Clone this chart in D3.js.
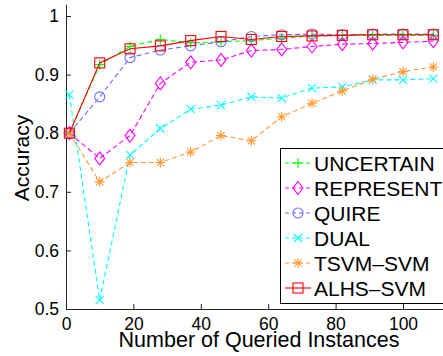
<!DOCTYPE html>
<html><head><meta charset="utf-8">
<script src="https://cdn.jsdelivr.net/npm/d3@7"></script>
<style>body{margin:0;background:#fff;overflow:hidden}svg{display:block}</style>
</head><body>
<script>
const xs = [1, 10, 19, 28, 37, 46, 55, 64, 73, 82, 91, 100, 109];
const seriesNames = ["UNCERTAIN", "REPRESENT", "QUIRE", "DUAL", "TSVM\u2013SVM", "ALHS\u2013SVM"];
const uncertain = [0.800, 0.917, 0.948, 0.960, 0.954, 0.956, 0.958, 0.962, 0.966, 0.967, 0.967, 0.967, 0.967];
const represent = [0.800, 0.757, 0.796, 0.885, 0.921, 0.925, 0.941, 0.943, 0.948, 0.952, 0.953, 0.955, 0.957];
const quire     = [0.800, 0.862, 0.929, 0.942, 0.949, 0.956, 0.965, 0.968, 0.969, 0.968, 0.969, 0.969, 0.969];
const dual      = [0.866, 0.515, 0.763, 0.808, 0.841, 0.848, 0.862, 0.860, 0.877, 0.879, 0.891, 0.891, 0.893];
const tsvm      = [0.800, 0.717, 0.750, 0.750, 0.768, 0.796, 0.787, 0.828, 0.851, 0.872, 0.892, 0.905, 0.913];
const alhs      = [0.800, 0.920, 0.944, 0.949, 0.958, 0.965, 0.960, 0.965, 0.966, 0.967, 0.968, 0.968, 0.968];
const xTicks = [0, 20, 40, 60, 80, 100];
const yTicks = [0.5, 0.6, 0.7, 0.8, 0.9, 1];
const xLabel = "Number of Queried Instances";
const yLabel = "Accuracy";

const colors = ["#00ff00", "#ff00ff", "#6f6fff", "#00ffff", "#ff9933", "#ff0000"];
const markers = ["plus", "diamond", "circle", "cross", "star", "square"];
const dashes = ["5,3", "5,3", "5,3", "5,3", "5,3", null];
const values = [uncertain, represent, quire, dual, tsvm, alhs];

const W = 443, H = 356;
const FONT = "'Liberation Sans', Arial, sans-serif";
const svg = d3.select("body").append("svg").attr("width", W).attr("height", H)
  .style("font-family", FONT);

const x = d3.scaleLinear().domain([0, 120]).range([66, 66 + 120 * 3.37]);
const y = d3.scaleLinear().domain([0.5, 1.02]).range([309, 309 - 0.52 * 586]);

// axes
const gx = svg.append("g").attr("transform", `translate(0,${y(0.5)})`)
  .call(d3.axisBottom(x).tickValues(xTicks).tickSizeInner(-5).tickSizeOuter(0).tickPadding(9).tickFormat(d3.format("d")));
const gy = svg.append("g").attr("transform", `translate(${x(0)},0)`)
  .call(d3.axisLeft(y).tickValues(yTicks).tickSizeInner(-5).tickSizeOuter(0).tickPadding(7).tickFormat(d => d === 1 ? "1" : d3.format(".1f")(d)));
[gx, gy].forEach(g => {
  g.select(".domain").attr("stroke", "#222").attr("stroke-width", 1);
  g.selectAll(".tick line").attr("stroke", "#222");
  g.selectAll(".tick text").attr("fill", "#000").style("font-size", "17.5px").style("font-family", FONT);
});
gx.selectAll(".tick text").attr("dy", "0.71em");

svg.append("text").attr("x", (118 + 400) / 2).attr("y", 347).attr("text-anchor", "middle")
  .style("font-size", "21.5px").text(xLabel);
svg.append("text").attr("transform", `translate(29,158) rotate(-90)`).attr("text-anchor", "middle")
  .style("font-size", "21px").text(yLabel);

function drawMarker(g, type, cx, cy, color) {
  const s = 5;
  if (type === "plus") {
    g.append("path").attr("d", `M${cx - s},${cy}H${cx + s}M${cx},${cy - s}V${cy + s}`).attr("stroke", color).attr("fill", "none");
  } else if (type === "cross") {
    const t = 4;
    g.append("path").attr("d", `M${cx - t},${cy - t}L${cx + t},${cy + t}M${cx - t},${cy + t}L${cx + t},${cy - t}`).attr("stroke", color).attr("fill", "none");
  } else if (type === "star") {
    const t = 3.6;
    g.append("path").attr("d", `M${cx - s},${cy}H${cx + s}M${cx},${cy - s}V${cy + s}M${cx - t},${cy - t}L${cx + t},${cy + t}M${cx - t},${cy + t}L${cx + t},${cy - t}`).attr("stroke", color).attr("fill", "none");
  } else if (type === "circle") {
    g.append("circle").attr("cx", cx).attr("cy", cy).attr("r", 5).attr("stroke", color).attr("fill", "none");
  } else if (type === "square") {
    g.append("rect").attr("x", cx - 5).attr("y", cy - 5).attr("width", 10).attr("height", 10).attr("stroke", color).attr("fill", "none");
  } else if (type === "diamond") {
    g.append("path").attr("d", `M${cx},${cy - 6.5}L${cx + 5},${cy}L${cx},${cy + 6.5}L${cx - 5},${cy}Z`).attr("stroke", color).attr("fill", "none");
  }
}

const line = d3.line().x(d => x(d[0])).y(d => y(d[1]));
values.forEach((vals, i) => {
  const g = svg.append("g");
  const pts = xs.map((xv, j) => [xv, vals[j]]);
  g.append("path").attr("d", line(pts)).attr("fill", "none").attr("stroke", colors[i])
    .attr("stroke-width", 1.2).attr("stroke-dasharray", dashes[i]);
  pts.forEach(p => drawMarker(g, markers[i], x(p[0]), y(p[1]), colors[i]));
  g.selectAll("path,circle,rect").attr("stroke-width", 1.1);
});

// legend
const lg = svg.append("g");
lg.append("rect").attr("x", 280.5).attr("y", 148.5).attr("width", 200).attr("height", 155)
  .attr("fill", "#fff").attr("stroke", "#000").attr("stroke-width", 1);
seriesNames.forEach((name, i) => {
  const cy = 163 + i * 25;
  lg.append("line").attr("x1", 285).attr("x2", 311).attr("y1", cy).attr("y2", cy)
    .attr("stroke", colors[i]).attr("stroke-width", 1.1).attr("stroke-dasharray", dashes[i] ? "4,3" : null);
  const mg = lg.append("g");
  drawMarker(mg, markers[i], 298, cy, colors[i]);
  mg.selectAll("path,circle,rect").attr("stroke-width", 1.1);
  lg.append("text").attr("x", 314).attr("y", cy + 7.5).style("font-size", "21px").attr("fill", "#000").text(name);
});
</script>
</body></html>
